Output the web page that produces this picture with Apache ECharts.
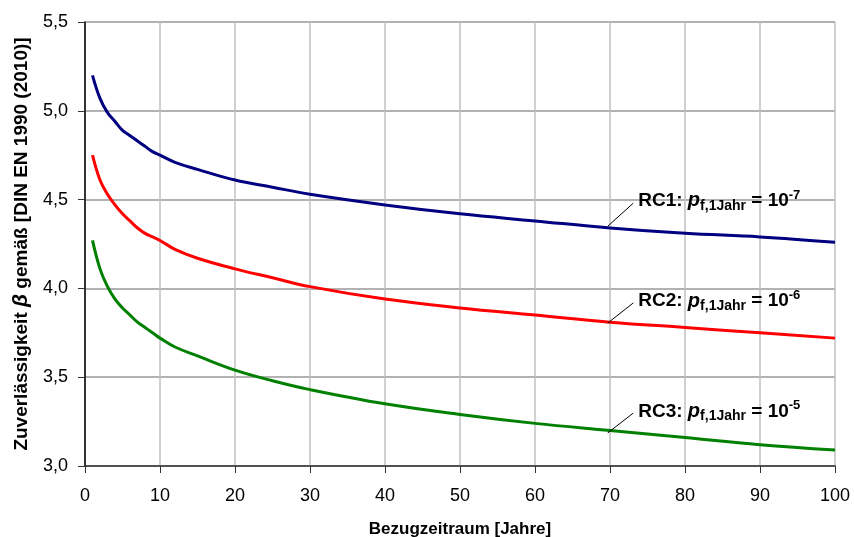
<!DOCTYPE html>
<html>
<head>
<meta charset="utf-8">
<script src="https://cdn.jsdelivr.net/npm/echarts@6/dist/echarts.min.js"></script>
<style>
  html, body { margin: 0; padding: 0; background: #fff; }
  #chart { width: 854px; height: 537px; }
</style>
</head>
<body>
<div id="chart"></div>
<script>
// Bezugzeitraum in Jahren
var years = [1, 2, 3, 4, 5, 6, 7, 8, 9, 10, 12, 15, 20, 25, 30, 40, 50, 60, 70, 80, 90, 100];
// Zuverlässigkeit beta je Klasse
var rc1 = [5.20, 5.07, 4.99, 4.94, 4.89, 4.86, 4.83, 4.80, 4.77, 4.75, 4.71, 4.67, 4.61, 4.57, 4.53, 4.47, 4.42, 4.38, 4.34, 4.31, 4.29, 4.26];
var rc2 = [4.75, 4.61, 4.53, 4.47, 4.42, 4.38, 4.34, 4.31, 4.29, 4.27, 4.22, 4.17, 4.11, 4.06, 4.01, 3.94, 3.89, 3.85, 3.81, 3.78, 3.75, 3.72];
var rc3 = [4.27, 4.11, 4.01, 3.94, 3.89, 3.85, 3.81, 3.78, 3.75, 3.72, 3.67, 3.62, 3.54, 3.48, 3.43, 3.35, 3.29, 3.24, 3.20, 3.16, 3.12, 3.09];

var classNames = ['RC1', 'RC2', 'RC3'];
var exponents = ['-7', '-6', '-5'];
var colors = ['#000080', '#ff0000', '#008000'];

var FONT = 'Liberation Sans, Arial, sans-serif';

function pairs(xs, ys) {
  return xs.map(function (x, i) { return [x, ys[i]]; });
}

var labelRich = {
  b:   { fontFamily: FONT, fontWeight: 'bold', fontSize: 19, color: '#000', lineHeight: 24 },
  i:   { fontFamily: FONT, fontWeight: 'bold', fontStyle: 'italic', fontSize: 20, color: '#000', lineHeight: 24 },
  sub: { fontFamily: FONT, fontWeight: 'bold', fontSize: 14, color: '#000', lineHeight: 13, verticalAlign: 'bottom' },
  sup: { fontFamily: FONT, fontWeight: 'bold', fontSize: 13, color: '#000', lineHeight: 13, verticalAlign: 'top' }
};

// leader line start/end and text anchor, in data units
var leaders = [
  { from: [69.7, 4.35], to: [73.1, 4.48], text: [73.1, 4.493] },
  { from: [69.7, 3.805], to: [73.1, 3.918], text: [73.1, 3.928] },
  { from: [69.7, 3.186], to: [73.1, 3.298], text: [73.1, 3.308] }
];

function makeSeries(idx, values) {
  var ld = leaders[idx];
  return {
    name: classNames[idx],
    type: 'line',
    data: pairs(years, values),
    smooth: 0.4,
    showSymbol: false,
    symbol: 'none',
    lineStyle: { color: colors[idx], width: 3 },
    z: 3,
    markLine: {
      silent: true,
      symbol: 'none',
      label: { show: false },
      lineStyle: { color: '#000', width: 1, type: 'solid' },
      data: [[{ coord: ld.from }, { coord: ld.to }]]
    },
    markPoint: {
      silent: true,
      symbol: 'circle',
      symbolSize: 0,
      data: [{ coord: ld.text }],
      label: {
        show: true,
        position: 'right',
        distance: 5,
        formatter: '{b|' + classNames[idx] + ': }{i|p}{sub|f,1Jahr}{b| = 10}{sup|' + exponents[idx] + '}',
        rich: labelRich
      }
    }
  };
}

var chart = echarts.init(document.getElementById('chart'));
chart.setOption({
  animation: false,
  backgroundColor: '#fff',
  grid: { left: 85, right: 19, top: 22, bottom: 71, containLabel: false, outerBoundsMode: 'none' },
  xAxis: {
    type: 'value',
    min: 0,
    max: 100,
    interval: 10,
    name: 'Bezugzeitraum [Jahre]',
    nameLocation: 'middle',
    nameGap: 55,
    nameTextStyle: { fontFamily: FONT, fontWeight: 'bold', fontSize: 17, color: '#000' },
    axisLine: { show: true, lineStyle: { color: '#333', width: 1.5 } },
    axisTick: { show: true, length: 7, lineStyle: { color: '#333' } },
    axisLabel: { fontFamily: FONT, fontSize: 18, color: '#000', margin: 21 },
    splitLine: { show: true, lineStyle: { color: '#c0c0c0', width: 1.5 } }
  },
  yAxis: {
    type: 'value',
    min: 3,
    max: 5.5,
    interval: 0.5,
    name: '{a|Zuverlässigkeit }{i|β}{a| gemäß [DIN EN 1990 (2010)]}',
    nameLocation: 'middle',
    nameGap: 53,
    nameRotate: 90,
    nameTextStyle: {
      rich: {
        a: { fontFamily: FONT, fontWeight: 'bold', fontSize: 19, color: '#000' },
        i: { fontFamily: FONT, fontWeight: 'bold', fontStyle: 'italic', fontSize: 21, color: '#000' }
      }
    },
    axisLine: { show: true, lineStyle: { color: '#000', width: 1.5 } },
    axisTick: { show: true, length: 7, lineStyle: { color: '#333' } },
    axisLabel: {
      fontFamily: FONT, fontSize: 18, color: '#000', margin: 17,
      formatter: function (v) { return v.toFixed(1).replace('.', ','); }
    },
    splitLine: { show: true, lineStyle: { color: '#999', width: 1.5 } }
  },
  series: [makeSeries(0, rc1), makeSeries(1, rc2), makeSeries(2, rc3)]
});
</script>
</body>
</html>
